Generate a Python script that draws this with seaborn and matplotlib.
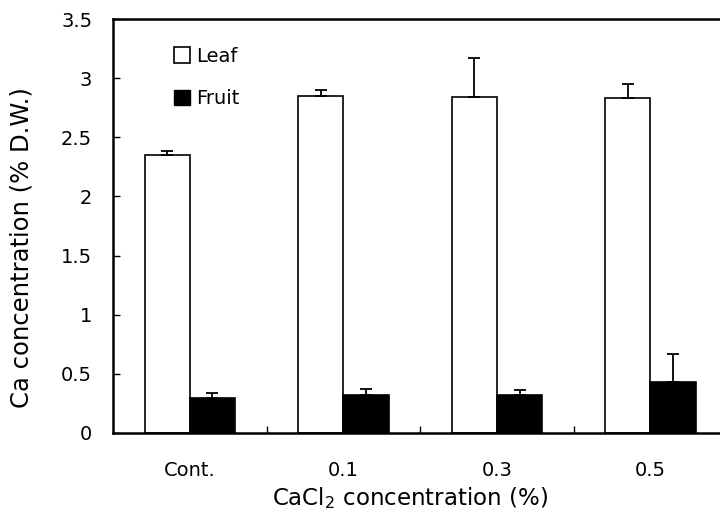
import matplotlib
matplotlib.use("Agg")
import matplotlib.pyplot as plt
import seaborn as sns
import pandas as pd
import numpy as np
from matplotlib.patches import Patch

categories = ["Cont.", "0.1", "0.3", "0.5"]
leaf_values = [2.35, 2.85, 2.84, 2.83]
leaf_err = [0.035, 0.05, 0.33, 0.12]
fruit_values = [0.30, 0.32, 0.325, 0.43]
fruit_err = [0.04, 0.05, 0.035, 0.24]
series = ["Leaf", "Fruit"]

sns.set_theme(style="white")
plt.rcParams['font.family'] = ['DejaVu Sans']
plt.rcParams['text.color'] = 'black'
plt.rcParams['axes.labelcolor'] = 'black'
plt.rcParams['xtick.color'] = 'black'
plt.rcParams['ytick.color'] = 'black'

df = pd.DataFrame({
    "cat": categories * 2,
    "series": ["Leaf"] * 4 + ["Fruit"] * 4,
    "value": leaf_values + fruit_values,
})

fig = plt.figure(figsize=(7.2, 5.17), dpi=100)
ax = fig.add_axes([0.157, 0.1625, 0.853, 0.8005])

sns.barplot(data=df, x="cat", y="value", hue="series", hue_order=series,
            palette={"Leaf": "white", "Fruit": "black"}, width=0.59,
            edgecolor="black", linewidth=1.2, errorbar=None, ax=ax, legend=False)

errs = {"Leaf": leaf_err, "Fruit": fruit_err}
vals = {"Leaf": leaf_values, "Fruit": fruit_values}
patches = [p for p in ax.patches]
for si, s in enumerate(series):
    bars = patches[si * 4:(si + 1) * 4]
    xs = [b.get_x() + b.get_width() / 2 for b in bars]
    e = np.array(errs[s])
    ax.errorbar(xs, vals[s], yerr=[np.zeros_like(e), e], fmt="none",
                ecolor="black", elinewidth=1.3, capsize=4.5, capthick=1.3, zorder=5)

ax.set_ylim(0, 3.5)
ax.set_xlim(-0.5, 3.5)
ax.set_yticks(np.arange(0, 3.51, 0.5))
ax.set_yticklabels(["0", "0.5", "1", "1.5", "2", "2.5", "3", "3.5"])
ax.tick_params(axis="y", direction="in", length=5, width=1, left=True,
               labelsize=14, pad=15, colors="black")
ax.tick_params(axis="x", which="major", length=0, labelsize=14, pad=20, colors="black")
ax.set_xticks([0.5, 1.5, 2.5], minor=True)
ax.tick_params(axis="x", which="minor", direction="in", length=5, width=1, bottom=True)

for side in ["left", "bottom", "top", "right"]:
    ax.spines[side].set_visible(True)
    ax.spines[side].set_color("black")
    ax.spines[side].set_linewidth(1.8)

ax.set_xlabel("CaCl$_2$ concentration (%)", fontsize=16.5, color="black")
ax.set_ylabel("Ca concentration (% D.W.)", fontsize=17.5, color="black")
ax.xaxis.set_label_coords(0.484, -0.125)
ax.yaxis.set_label_coords(-0.130, 0.447)

handles = [Patch(facecolor="white", edgecolor="black", linewidth=1.2),
           Patch(facecolor="black", edgecolor="black")]
ax.legend(handles, series, loc="upper left", bbox_to_anchor=(0.07, 0.975),
          frameon=False, fontsize=14, handlelength=0.85, handleheight=0.85,
          handletextpad=0.3, labelspacing=1.2)

fig.savefig("out.png", dpi=100)
